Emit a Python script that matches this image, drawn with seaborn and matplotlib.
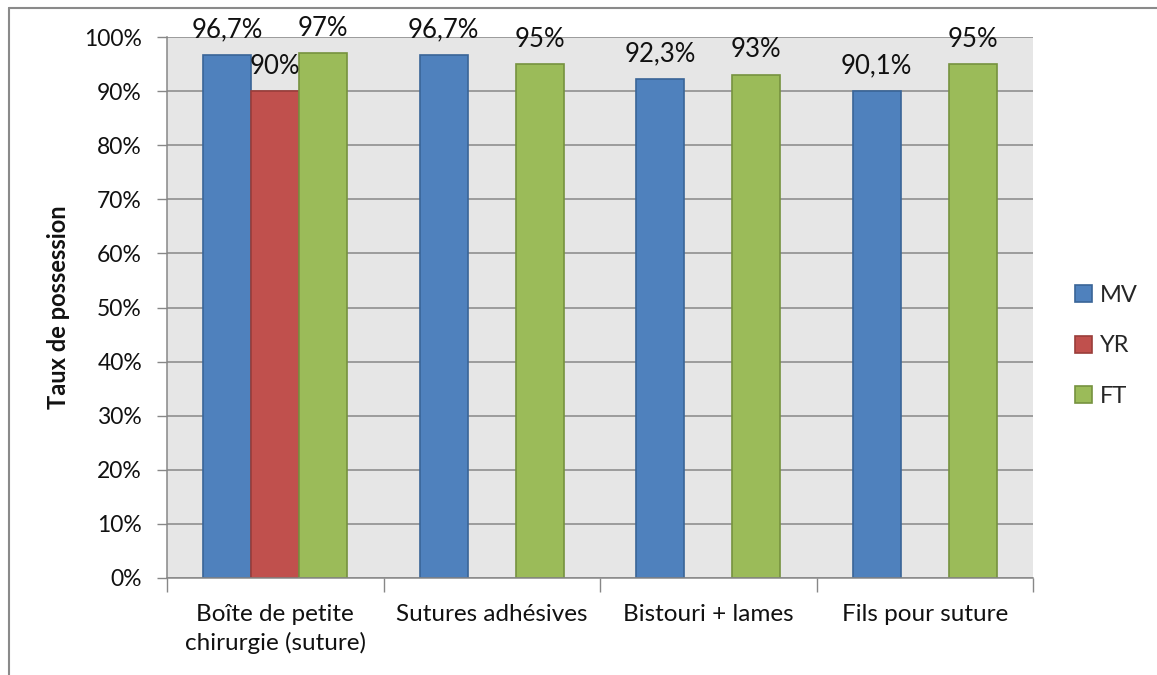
import matplotlib
matplotlib.use("Agg")
import matplotlib.pyplot as plt
from matplotlib.lines import Line2D
from matplotlib.ticker import FixedLocator, FuncFormatter
import numpy as np
import pandas as pd
import seaborn as sns

# Equipment categories and possession rates (%) per group
categories = ["Boîte de petite\nchirurgie (suture)", "Sutures adhésives",
              "Bistouri + lames", "Fils pour suture"]
series = ["MV", "YR", "FT"]
mv_values = [96.7, 96.7, 92.3, 90.1]
yr_values = [90.0, np.nan, np.nan, np.nan]
ft_values = [97.0, 95.0, 93.0, 95.0]
y_ticks = [0, 10, 20, 30, 40, 50, 60, 70, 80, 90, 100]

colors = {"MV": "#4F81BD", "YR": "#C0504D", "FT": "#9BBB59"}
edges = {"MV": "#3A6597", "YR": "#9A3D3A", "FT": "#76923F"}

rows = []
for name, vals in zip(series, [mv_values, yr_values, ft_values]):
    for cat, v in zip(categories, vals):
        rows.append({"cat": cat, "serie": name, "val": v})
df = pd.DataFrame(rows)

sns.set_theme(style="white")
plt.rcParams["font.family"] = ["Lato", "DejaVu Sans"]

fig = plt.figure(figsize=(11.57, 6.75), dpi=100)
ax = fig.add_axes([167 / 1157, 97 / 675, 866 / 1157, 541 / 675])
ax.set_facecolor("#E6E6E6")

sns.barplot(data=df, x="cat", y="val", hue="serie", order=categories,
            hue_order=series, palette=colors, width=0.665, ax=ax,
            errorbar=None, saturation=1, legend=False)

for container, name in zip(ax.containers, series):
    for patch in container:
        patch.set_edgecolor(edges[name])
        patch.set_linewidth(1.2)
    ax.bar_label(container,
                 fmt=lambda v: (f"{v:g}".replace(".", ",") + "%"),
                 padding=9, fontsize=18.5, color="#111111")

ax.set_ylim(0, 100)
ax.set_xlim(-0.5, len(categories) - 0.5)
ax.yaxis.set_major_locator(FixedLocator(y_ticks))
ax.yaxis.set_major_formatter(FuncFormatter(lambda v, p: f"{v:.0f}%"))
ax.grid(axis="y", color="#878787", linewidth=1.1)
ax.set_axisbelow(True)

ax.set_xlabel("")
ax.set_ylabel("Taux de possession", fontsize=17, fontweight="bold",
              labelpad=10, color="#111111")
ax.tick_params(axis="y", labelsize=16.5, length=7, width=1, color="#878787",
               direction="out", left=True, pad=11, labelcolor="#111111")
ax.tick_params(axis="x", which="major", labelsize=17.5, length=0, pad=19,
               labelcolor="#111111")
ax.set_xticks(np.arange(-0.5, len(categories)), minor=True)
ax.tick_params(axis="x", which="minor", length=10, width=1, color="#878787",
               direction="out", bottom=True)
for lbl in ax.get_xticklabels():
    lbl.set_linespacing(1.35)

for side in ["top", "right"]:
    ax.spines[side].set_visible(False)
for side in ["left", "bottom"]:
    ax.spines[side].set_color("#878787")
    ax.spines[side].set_linewidth(1.1)

handles = [plt.Rectangle((0, 0), 1, 1, facecolor=colors[s], edgecolor=edges[s],
                         linewidth=1.2) for s in series]
fig.legend(handles, series, loc="center left",
           bbox_to_anchor=(1066 / 1157, 1 - 346 / 675), frameon=False,
           fontsize=17, handlelength=0.72, handleheight=0.72,
           handletextpad=0.3, labelspacing=1.25, borderaxespad=0)

# outer chart frame (top and left edges)
fig.add_artist(Line2D([9 / 1157, 1], [1 - 8 / 675, 1 - 8 / 675],
                      transform=fig.transFigure, color="#8A8A8A", linewidth=1.5))
fig.add_artist(Line2D([9 / 1157, 9 / 1157], [0, 1 - 8 / 675],
                      transform=fig.transFigure, color="#8A8A8A", linewidth=1.5))

fig.savefig("out.png", dpi=100, facecolor="white")
